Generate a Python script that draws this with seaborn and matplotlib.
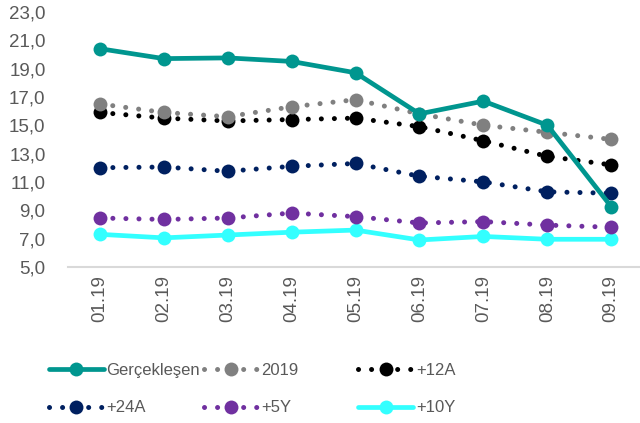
import numpy as np
import pandas as pd
import matplotlib
matplotlib.use("Agg")
import matplotlib.pyplot as plt
import seaborn as sns

# Data
months = ["01.19", "02.19", "03.19", "04.19", "05.19", "06.19", "07.19", "08.19", "09.19"]
gerceklesen = [20.4, 19.7, 19.75, 19.5, 18.7, 15.8, 16.7, 15.0, 9.25]
y2019 = [16.5, 15.9, 15.6, 16.3, 16.8, 15.8, 15.0, 14.5, 14.0]
plus_12a = [15.9, 15.5, 15.3, 15.4, 15.5, 14.9, 13.9, 12.8, 12.2]
plus_24a = [12.0, 12.05, 11.75, 12.1, 12.3, 11.4, 11.0, 10.3, 10.2]
plus_5y = [8.45, 8.35, 8.45, 8.8, 8.55, 8.1, 8.2, 7.95, 7.8]
plus_10y = [7.3, 7.05, 7.25, 7.45, 7.6, 6.9, 7.15, 6.95, 6.95]

series = {
    "Gerçekleşen": gerceklesen,
    "2019": y2019,
    "+12A": plus_12a,
    "+24A": plus_24a,
    "+5Y": plus_5y,
    "+10Y": plus_10y,
}

colors = {
    "Gerçekleşen": "#00968F",
    "2019": "#808080",
    "+12A": "#000000",
    "+24A": "#002060",
    "+5Y": "#7030A0",
    "+10Y": "#33FFFF",
}
solid = {"Gerçekleşen", "+10Y"}

sns.set_style("white")
plt.rcParams["font.family"] = ["Liberation Sans", "DejaVu Sans"]

df = pd.DataFrame({"month": months, **series})

fig = plt.figure(figsize=(6.4, 4.23), dpi=100)
ax = fig.add_axes([0.106, 0.369, 0.894, 0.603])

handles = {}
# draw bottom series first so the realised line sits on top
for name in ["+10Y", "+5Y", "+24A", "+12A", "2019", "Gerçekleşen"]:
    if name in solid:
        sns.lineplot(data=df, x="month", y=name, ax=ax, sort=False, color=colors[name],
                     linewidth=3.4, marker="o", markersize=10, markeredgewidth=0,
                     solid_capstyle="round")
    else:
        sns.lineplot(data=df, x="month", y=name, ax=ax, sort=False, color=colors[name],
                     linewidth=3.6, marker="o", markersize=10, markeredgewidth=0,
                     dashes=False)
        line = ax.lines[-1]
        line.set_linestyle((0, (0.01, 2.6)))
        line.set_dash_capstyle("round")
    handles[name] = ax.lines[-1]

ax.set_ylim(5, 23)
ax.set_xlim(-0.5, 8.45)
ax.set_yticks(np.arange(5, 24, 2))
ax.set_yticklabels([f"{v:.1f}".replace(".", ",") for v in np.arange(5, 24, 2)])
ax.set_xlabel("")
ax.set_ylabel("")

for s in ["top", "right", "left"]:
    ax.spines[s].set_visible(False)
ax.spines["bottom"].set_color("#D9D9D9")
ax.spines["bottom"].set_linewidth(1.5)

ax.set_xticks(np.arange(len(months)))
ax.set_xticklabels(months, rotation=90)
ax.set_xticks(np.arange(len(months)) - 0.5, minor=True)
ax.tick_params(axis="x", which="major", length=0, pad=6, labelsize=13.5, labelcolor="#595959")
ax.tick_params(axis="x", which="minor", length=6, width=1.5, color="#D9D9D9", direction="out")
ax.tick_params(axis="y", length=0, labelsize=13.5, labelcolor="#595959", pad=16)

# legend: three columns, Excel-style equal column slots
legend_cols = [["Gerçekleşen", "+24A"], ["2019", "+5Y"], ["+12A", "+10Y"]]
col_x = [0.076, 0.318, 0.56]
for names, x0 in zip(legend_cols, col_x):
    fig.legend([handles[n] for n in names], names, loc="upper left", bbox_to_anchor=(x0, 0.1425),
               ncol=1, frameon=False, fontsize=12, handlelength=3.3, handletextpad=0.15,
               labelspacing=1.36, labelcolor="#595959", borderaxespad=0, borderpad=0)

fig.savefig("out.png", dpi=100)
